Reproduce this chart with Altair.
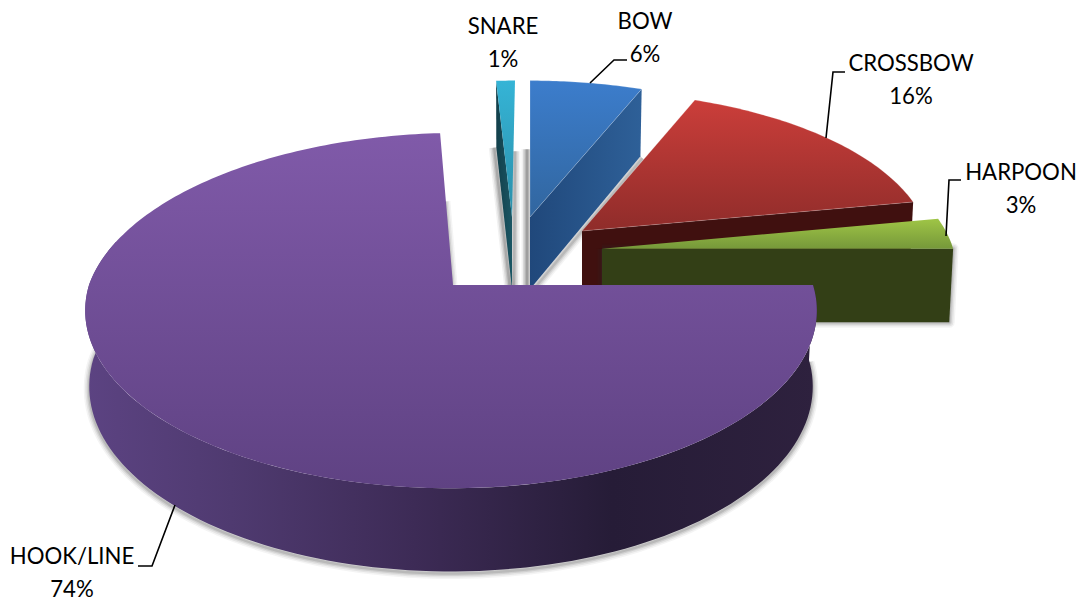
import math
import altair as alt
import pandas as pd

# Catch by gear type, share of total in percent, clockwise from three o'clock
categories = ["HOOK/LINE", "SNARE", "BOW", "CROSSBOW", "HARPOON"]
shares = [74, 1, 6, 16, 3]

# Perspective set-up of the tilted disc, in canvas pixels
CX, TOP_Y, BOTTOM_Y = 451, 285, 360
TOP_RX, TOP_RY = 362, 174
BOTTOM_RX, BOTTOM_RY = 358, 181
TILT = 0.144

# Explosion of each slice: sideways shift in pixels, shift along the disc depth,
# and a small lean of the far side of the rim
explode = {
    "HOOK/LINE": (0, 0.0, 9),
    "SNARE": (61, -0.414, 3),
    "BOW": (79, -0.414, 0),
    "CROSSBOW": (131, -0.325, 0),
    "HARPOON": (151, -0.215, 0),
}


def project(cos_a, sin_a, dx, dv, lean=0, lower=False):
    v = sin_a + dv
    den = 1 - TILT * v
    rx, ry, base = (BOTTOM_RX, BOTTOM_RY, BOTTOM_Y) if lower else (TOP_RX, TOP_RY, TOP_Y)
    return CX + dx + rx * cos_a / den + lean * max(-sin_a, 0), base + ry * v / den


def rim(start, end, dx, dv, lean=0, lower=False, steps=60):
    pts = []
    for i in range(steps + 1):
        a = math.radians(start + (end - start) * i / steps)
        pts.append(project(math.cos(a), math.sin(a), dx, dv, lean, lower))
    return pts


def apex(dx, dv, lean=0, lower=False):
    return project(0, 0, dx, dv, lean, lower)


def outer(angle, dx, dv, lean=0, lower=False):
    a = math.radians(angle)
    return project(math.cos(a), math.sin(a), dx, dv, lean, lower)


# Angular extent of each slice
spans = {}
running = 0.0
for name, share in zip(categories, shares):
    spans[name] = (running, running + share * 3.6)
    running += share * 3.6

x_scale = alt.Scale(domain=[0, 1080], range=[0, 1080])
y_scale = alt.Scale(domain=[0, 601], range=[0, 601])


def enc():
    return dict(
        x=alt.X("x:Q", scale=x_scale, axis=None),
        y=alt.Y("y:Q", scale=y_scale, axis=None),
        order=alt.Order("i:Q"),
    )


def frame(points):
    return pd.DataFrame(
        [{"x": p[0], "y": p[1], "i": i} for i, p in enumerate(points)]
    )


def grad(stops, vertical=True):
    n = len(stops) - 1
    parts = [
        alt.GradientStop(offset=s[0] if isinstance(s, tuple) else i / n,
                         color=s[1] if isinstance(s, tuple) else s)
        for i, s in enumerate(stops)
    ]
    return alt.LinearGradient(
        gradient="linear", stops=parts,
        x1=0, y1=0, x2=0 if vertical else 1, y2=1 if vertical else 0,
    )


def poly(points, fill, edge=None, edge_width=0.0, edge_opacity=1.0):
    closed = list(points) + [points[0]]
    kw = dict(fill=fill, interpolate="linear", strokeJoin="round")
    if edge:
        kw.update(stroke=edge, strokeWidth=edge_width, strokeOpacity=edge_opacity)
    else:
        kw.update(strokeWidth=0, strokeOpacity=0)
    return alt.Chart(frame(closed)).mark_line(**kw).encode(**enc())


def shadow(points, shift=(0, 3), close=True, strength=1.0):
    # Soft drop shadow built from widening translucent outlines
    moved = [(x + shift[0], y + shift[1]) for x, y in points]
    path = moved + [moved[0]] if close else moved
    layers = []
    for width, alpha in [(11, 0.05), (8, 0.08), (5, 0.11), (2.5, 0.14)]:
        layers.append(
            alt.Chart(frame(path))
            .mark_line(stroke="#303030", strokeWidth=width,
                       strokeOpacity=alpha * strength, strokeJoin="round",
                       fillOpacity=0)
            .encode(**enc())
        )
    return layers


layers = []

# Snare
s0, s1 = spans["SNARE"]
dx, dv, lean = explode["SNARE"]
snare_face = [outer(s0, dx, dv, lean), apex(dx, dv), apex(dx, dv, 0, True), outer(s0, dx, dv, lean, True)]
snare_top = [apex(dx, dv)] + rim(s0, s1, dx, dv, lean, steps=6)
layers += shadow([snare_face[3], snare_face[2]], (-2, 0), close=False, strength=1.3)
layers += shadow([snare_face[2], (snare_face[2][0] + 1, snare_face[2][1] - 138)], (2, 0), close=False, strength=1.1)
layers.append(poly(snare_face, grad(["#123f4a", "#1a5664"], vertical=False)))
layers.append(poly(snare_top, grad(["#35b4d6", "#2b8fa9"])))

# Bow
s0, s1 = spans["BOW"]
dx, dv, lean = explode["BOW"]
bow_face = [apex(dx, dv), outer(s1, dx, dv), outer(s1, dx, dv, 0, True), apex(dx, dv, 0, True)]
bow_top = [apex(dx, dv)] + rim(s0, s1, dx, dv, steps=30)
layers += shadow([bow_face[3], (bow_face[3][0], bow_face[3][1] - 140)], (-3, 0), close=False, strength=1.5)
layers += shadow([bow_face[3], bow_face[2]], (2, 2), close=False)
layers.append(poly(bow_face, grad(["#20487b", "#2e6098"], vertical=False)))
layers.append(poly(bow_top, grad(["#3c7dcc", "#31669f"]), "#ffffff", 0.8, 0.25))

# Crossbow
s0, s1 = spans["CROSSBOW"]
dx, dv, lean = explode["CROSSBOW"]
cross_face = [apex(dx, dv), outer(s1, dx, dv), outer(s1, dx, dv, 0, True), apex(dx, dv, 0, True)]
cross_top = [apex(dx, dv)] + rim(s0, s1, dx, dv)
layers.append(poly(cross_face, "#40100f"))
layers.append(poly(cross_top, grad(["#cb3e3a", "#8f2c2a"]), "#ffffff", 0.8, 0.25))

# Harpoon
s0, s1 = spans["HARPOON"]
dx, dv, lean = explode["HARPOON"]
harp_face = [apex(dx, dv), outer(s1, dx, dv), outer(s1, dx, dv, 0, True), apex(dx, dv, 0, True)]
harp_top = [apex(dx, dv)] + rim(s0, s1, dx, dv, steps=12)
layers += shadow(harp_face, (0, 0))
layers.append(poly(harp_face, "#333f16"))
layers.append(poly(harp_top, grad(["#9fc546", "#76983a"])))

# Hook/line: wall of the disc first, then its top
s0, s1 = spans["HOOK/LINE"]
dx, dv, lean = explode["HOOK/LINE"]
hub = (453, TOP_Y)
wall = rim(0, 195, dx, dv, lean, steps=120) + rim(195, 0, dx, dv, lean, lower=True, steps=120)
hook_top = [hub] + rim(s0, s1, dx, dv, lean, steps=240)
far_end = outer(s1, dx, dv, lean)
layers += shadow(rim(0, 195, dx, dv, lean, lower=True, steps=120), (0, 2), close=False)
layers += shadow(
    [hub, (hub[0] + (far_end[0] - hub[0]) * 0.55, hub[1] + (far_end[1] - hub[1]) * 0.55)],
    (-1, 0), close=False,
)
layers.append(poly(
    wall,
    grad([(0, "#5c4382"), (0.2, "#4f3a70"), (0.45, "#3d2b56"),
          (0.72, "#261c37"), (1, "#2e213e")], vertical=False),
))
layers.append(poly(hook_top, grad(["#805aa9", "#5f4283"])))

# Leader lines from slices to their labels
leaders = {
    "SNARE": None,
    "BOW": [(590, 83), (614, 60), (627, 60)],
    "CROSSBOW": [(826, 138), (833, 72), (845, 72)],
    "HARPOON": [(946, 236), (949, 180), (961, 180)],
    "HOOK/LINE": [(175, 505), (152, 566), (138, 566)],
}
for path in leaders.values():
    if path:
        layers.append(
            alt.Chart(frame(path))
            .mark_line(stroke="#000000", strokeWidth=1.6, interpolate="linear")
            .encode(**enc())
        )

# Category and percentage labels
label_anchor = {
    "SNARE": (503, 27),
    "BOW": (645, 22),
    "CROSSBOW": (911, 64),
    "HARPOON": (1021, 173),
    "HOOK/LINE": (72, 557),
}
rows = []
for name, share in zip(categories, shares):
    ax, ay = label_anchor[name]
    rows.append({"x": ax, "y": ay, "text": name})
    rows.append({"x": ax, "y": ay + 33, "text": f"{share}%"})
layers.append(
    alt.Chart(pd.DataFrame(rows))
    .mark_text(font="Lato", fontSize=22.2, color="#000000", align="center", baseline="middle")
    .encode(x=alt.X("x:Q", scale=x_scale, axis=None),
            y=alt.Y("y:Q", scale=y_scale, axis=None),
            text="text:N")
)

chart = (
    alt.layer(*layers)
    .properties(width=1080, height=601, padding=0,
                autosize=alt.AutoSizeParams(type="none"), background="#ffffff")
    .configure_view(stroke=None)
)

chart.save("out.html", embed_options={"renderer": "svg", "actions": False})
